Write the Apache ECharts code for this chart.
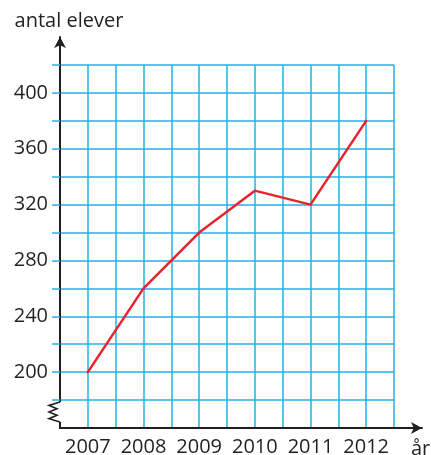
<!DOCTYPE html>
<html>
<head>
<meta charset="utf-8">
<script src="https://cdn.jsdelivr.net/npm/echarts@6/dist/echarts.min.js"></script>
<style>
  html, body { margin: 0; padding: 0; background: #fff; }
  #main { width: 431px; height: 455px; }
</style>
</head>
<body>
<div id="main"></div>
<script>
var years = [2007, 2008, 2009, 2010, 2011, 2012];
var elever = [200, 260, 300, 330, 320, 380];
var yLabels = [200, 240, 280, 320, 360, 400];
var yGridLines = [180, 200, 220, 240, 260, 280, 300, 320, 340, 360, 380, 400, 420];

var myChart = echarts.init(document.getElementById('main'));

var blue = '#22b2e6';
var ink = '#231f20';
var font = 'Open Sans';

var points = years.map(function (y, i) { return [y, elever[i]]; });

var option = {
    animation: false,
    grid: [
        // blått rutnät
        { left: 60, right: 37, top: 65, bottom: 27, outerBoundsMode: 'none' },
        // svarta axlar med pilar
        { left: 60, right: 9, top: 37, bottom: 27, outerBoundsMode: 'none' }
    ],
    xAxis: [
        {
            gridIndex: 0, type: 'value', min: 2006.5, max: 2012.5, interval: 0.5,
            axisLine: { show: false },
            axisTick: { show: false },
            splitLine: { show: true, lineStyle: { color: blue, width: 1.5 } },
            axisLabel: {
                margin: 9, color: ink, fontFamily: font, fontSize: 20,
                customValues: years,
                formatter: function (v) { return String(v); }
            }
        },
        {
            gridIndex: 1, type: 'value', min: 2006.5, max: 2013, interval: 0.5,
            axisLine: { show: true, onZero: false, symbol: ['none', 'arrow'], symbolSize: [9, 11], lineStyle: { color: ink, width: 2 } },
            axisTick: { show: false },
            axisLabel: { show: false },
            splitLine: { show: false },
            name: 'år', nameLocation: 'end', nameGap: -11,
            nameTextStyle: { color: ink, fontFamily: font, fontSize: 20, align: 'left', verticalAlign: 'top', padding: [11, 0, 0, 0] }
        }
    ],
    yAxis: [
        {
            gridIndex: 0, type: 'value', min: 160, max: 420, interval: 20,
            axisLine: { show: false },
            axisTick: { show: true, length: 8, customValues: yGridLines, lineStyle: { color: blue, width: 1.5 } },
            splitLine: { show: true, lineStyle: { color: blue, width: 1.5 } },
            axisLabel: {
                margin: 12, color: ink, fontFamily: font, fontSize: 20,
                customValues: yLabels
            }
        },
        {
            gridIndex: 1, type: 'value', min: 160, max: 440, interval: 20,
            axisLine: { show: true, onZero: false, symbol: ['none', 'arrow'], symbolSize: [9, 11], lineStyle: { color: ink, width: 2 } },
            axisTick: { show: false },
            axisLabel: { show: false },
            splitLine: { show: false },
            name: 'antal elever', nameLocation: 'end', nameGap: 6,
            nameTextStyle: { color: ink, fontFamily: font, fontSize: 20, align: 'center', padding: [0, 0, 0, 18] }
        }
    ],
    series: [
        {
            name: 'antal elever',
            type: 'line',
            xAxisIndex: 0, yAxisIndex: 0,
            data: points,
            showSymbol: false,
            lineStyle: { color: '#e8242b', width: 2.5, cap: 'round', join: 'round' },
            z: 5
        }
    ]
};

myChart.setOption(option);

// axelbrott (sicksack) på y-axeln mellan 160 och 180
var pTop = myChart.convertToPixel({ gridIndex: 1 }, [2006.5, 180]);
var pBot = myChart.convertToPixel({ gridIndex: 1 }, [2006.5, 160]);
var ax = pTop[0], y0 = pTop[1] + 2, y1 = pBot[1] - 6;
var h = (y1 - y0) / 6;
myChart.setOption({
    graphic: [
        { type: 'rect', z: 100, shape: { x: ax - 3, y: y0, width: 6, height: y1 - y0 }, style: { fill: '#fff' } },
        {
            type: 'polyline', z: 101,
            shape: { points: [[ax, y0], [ax - 11, y0 + h], [ax - 3, y0 + 2 * h], [ax - 11, y0 + 3 * h], [ax - 3, y0 + 4 * h], [ax - 11, y0 + 5 * h], [ax, y1]] },
            style: { stroke: ink, lineWidth: 1.6, fill: null }
        }
    ]
});
</script>
</body>
</html>
